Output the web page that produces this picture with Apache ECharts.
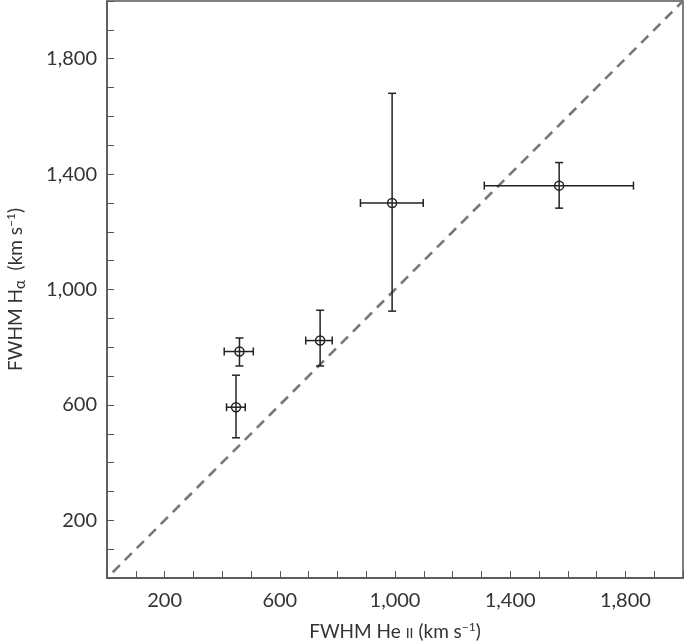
<!DOCTYPE html>
<html>
<head>
<meta charset="utf-8">
<script src="https://cdn.jsdelivr.net/npm/echarts@6/dist/echarts.min.js"></script>
<style>
  html, body { margin: 0; padding: 0; background: #fff; }
  #chart { width: 685px; height: 643px; }
</style>
</head>
<body>
<div id="chart"></div>
<script>
// FWHM He II (x) against FWHM H-alpha (y), km/s, with error ranges
const heiiFwhm = [460, 448, 740, 990, 1570]
const heiiLow = [407, 415, 690, 880, 1310]
const heiiHigh = [508, 480, 782, 1098, 1828]
const haFwhm = [785, 592, 823, 1300, 1360]
const haLow = [735, 486, 735, 925, 1282]
const haHigh = [832, 703, 928, 1680, 1440]
// one-to-one line
const oneToOne = [20, 2000]
// labelled ticks
const tickLabels = [200, 600, 1000, 1400, 1800]

const fontFamily = 'Lato, "Open Sans", sans-serif'
const textColor = '#333'
const frameColor = '#555'

const fmt = (v) => (tickLabels.includes(v) ? v.toLocaleString('en-US') : '')

const points = heiiFwhm.map((x, i) => [x, haFwhm[i], heiiLow[i], heiiHigh[i], haLow[i], haHigh[i]])

function renderErrorBar(params, api) {
  const c = api.coord([api.value(0), api.value(1)])
  const xl = api.coord([api.value(2), api.value(1)])
  const xh = api.coord([api.value(3), api.value(1)])
  const yl = api.coord([api.value(0), api.value(4)])
  const yh = api.coord([api.value(0), api.value(5)])
  const cap = 4
  const style = { stroke: '#222', lineWidth: 1.5 }
  const line = (x1, y1, x2, y2) => ({ type: 'line', shape: { x1, y1, x2, y2 }, style })
  return {
    type: 'group',
    children: [
      line(xl[0], c[1], xh[0], c[1]),
      line(xl[0], c[1] - cap, xl[0], c[1] + cap),
      line(xh[0], c[1] - cap, xh[0], c[1] + cap),
      line(c[0], yl[1], c[0], yh[1]),
      line(c[0] - cap, yl[1], c[0] + cap, yl[1]),
      line(c[0] - cap, yh[1], c[0] + cap, yh[1]),
      {
        type: 'circle',
        shape: { cx: c[0], cy: c[1], r: 4.5 },
        style: { fill: 'rgba(0,0,0,0)', stroke: '#222', lineWidth: 1.5 }
      }
    ]
  }
}

const chart = echarts.init(document.getElementById('chart'))

const axisCommon = {
  type: 'value',
  min: 0,
  max: 2000,
  interval: 100,
  splitLine: { show: false },
  axisLine: { show: true, lineStyle: { color: frameColor, width: 1.5 } },
  axisTick: { show: true, inside: true, length: 7, lineStyle: { color: frameColor, width: 1 } },
  nameLocation: 'middle',
  nameTextStyle: {
    fontFamily,
    fontSize: 19,
    color: textColor,
    rich: {
      sub: { fontFamily, fontSize: 15, color: textColor, padding: [10, 0, 0, 0] },
      sup: { fontFamily, fontSize: 12, color: textColor, padding: [0, 0, 9, 0] },
      sc: { fontFamily, fontSize: 14, color: textColor, padding: [3, 0, 0, 0] }
    }
  }
}

chart.setOption({
  animation: false,
  grid: {
    left: 107,
    right: 2,
    top: 1,
    bottom: 65,
    outerBoundsMode: 'none',
    containLabel: false,
    show: true,
    borderColor: frameColor,
    borderWidth: 1.5
  },
  xAxis: {
    ...axisCommon,
    name: 'FWHM He {sc|II} (km s{sup|\u22121})',
    nameGap: 43,
    axisLabel: { formatter: fmt, margin: 13, fontFamily, fontSize: 20, color: textColor }
  },
  yAxis: {
    ...axisCommon,
    name: 'FWHM H{sub|\u03b1}  (km s{sup|\u22121})',
    nameGap: 79,
    axisLabel: { formatter: fmt, margin: 10, fontFamily, fontSize: 20, color: textColor }
  },
  series: [
    {
      type: 'line',
      data: [[oneToOne[0], oneToOne[0]], [oneToOne[1], oneToOne[1]]],
      symbol: 'none',
      silent: true,
      lineStyle: { color: '#777', width: 2.6, type: [10, 7] },
      z: 2
    },
    {
      type: 'custom',
      data: points,
      renderItem: renderErrorBar,
      encode: { x: 0, y: 1 },
      z: 3
    }
  ]
})
</script>
</body>
</html>
